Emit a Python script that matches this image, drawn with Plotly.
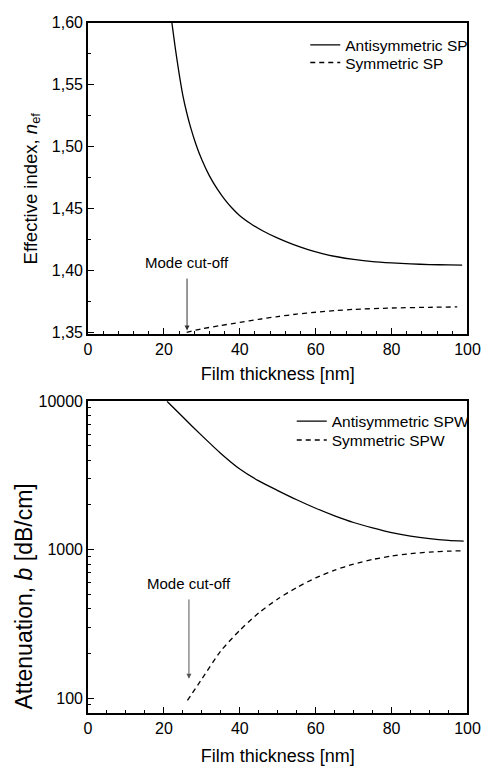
import math
import plotly.graph_objects as go

# ---------------- data ----------------
# Top panel: effective index vs film thickness
x_anti_sp = [22.1, 23, 24, 25, 26, 27, 28.5, 30, 32, 34, 36, 38, 40, 43, 46, 50, 54, 58, 62, 66, 70, 75, 80, 85, 90, 95, 98.6]
n_anti_sp = [1.6000, 1.5795, 1.5591, 1.5412, 1.5275, 1.5159, 1.5013, 1.4893, 1.4763, 1.4660, 1.4574, 1.4502, 1.4442,
             1.4375, 1.4320, 1.4260, 1.4210, 1.4168, 1.4134, 1.4108, 1.4089, 1.4071, 1.4060, 1.4052, 1.4047, 1.4044, 1.4042]

x_sym_sp = [26.0, 30, 35, 40, 45, 50, 55, 60, 65, 70, 80, 90, 97.3]
n_sym_sp = [1.350, 1.3528, 1.3555, 1.3580, 1.3605, 1.3627, 1.3647, 1.3662, 1.3675, 1.3685, 1.3696, 1.3702, 1.3705]

# Bottom panel: attenuation vs film thickness
x_anti_spw = [20.8, 25, 30, 35, 40, 45, 50, 55, 60, 65, 70, 75, 80, 85, 90, 95, 99]
b_anti_spw = [10000, 7816, 5861, 4446, 3491, 2904, 2500, 2168, 1901, 1690, 1524, 1403, 1303, 1233, 1186, 1156, 1143]

x_sym_spw = [26.2, 30, 35, 40, 45, 50, 55, 60, 65, 70, 75, 80, 85, 90, 95, 99]
b_sym_spw = [96.6, 134.6, 208.0, 286.4, 375.0, 465.6, 555.9, 645.7, 727.8, 799.8, 859.0, 905.7, 939.7, 963.8, 977.2, 984.0]

# tick labels
x_tickvals = [0, 20, 40, 60, 80, 100]
x_ticktext = ["0", "20", "40", "60", "80", "100"]
x_minor_top = [v for v in range(0, 101, 4) if v % 20 != 0]
x_minor_bot = [v for v in range(0, 101, 5) if v % 20 != 0]

n_tickvals = [1.35, 1.40, 1.45, 1.50, 1.55, 1.60]
n_ticktext = ["1,35", "1,40", "1,45", "1,50", "1,55", "1,60"]
n_minor = [1.375, 1.425, 1.475, 1.525, 1.575]

b_tickvals = [100, 1000, 10000]
b_ticktext = ["100", "1000", "10000"]
b_minor = [90] + [m * 100 for m in range(2, 10)] + [m * 1000 for m in range(2, 10)]

# cut-off annotation positions (data coords)
cut_x = 26.1
cut_top_text_y = 1.4065
cut_top_tail_y = 1.3946
cut_top_tip_y = 1.3515
cut_bot_x = 26.6
cut_bot_text_y = 596
cut_bot_tail_y = 473
cut_bot_tip_y = 135

FONT = "Liberation Sans, Arial, sans-serif"
W, H = 494, 770

fig = go.Figure()

line_solid = dict(color="black", width=1.3, shape="spline", smoothing=0.6)
line_dash = dict(color="black", width=1.3, dash="5px,4px", shape="spline", smoothing=0.6)

fig.add_trace(go.Scatter(x=x_anti_sp, y=n_anti_sp, mode="lines", name="Antisymmetric SP",
                         line=line_solid, xaxis="x", yaxis="y", legend="legend"))
fig.add_trace(go.Scatter(x=x_sym_sp, y=n_sym_sp, mode="lines", name="Symmetric SP",
                         line=line_dash, xaxis="x", yaxis="y", legend="legend2"))
fig.add_trace(go.Scatter(x=x_anti_spw, y=b_anti_spw, mode="lines", name="Antisymmetric SPW",
                         line=line_solid, xaxis="x2", yaxis="y2", legend="legend3"))
fig.add_trace(go.Scatter(x=x_sym_spw, y=b_sym_spw, mode="lines", name="Symmetric SPW",
                         line=line_dash, xaxis="x2", yaxis="y2", legend="legend4"))

x_dom = [87 / W, 480 / W]
top_dom = [1 - 332 / H, 1 - 15 / H]
bot_dom = [1 - 719 / H, 1 - 401 / H]

axis_common = dict(
    showline=True, linecolor="black", linewidth=1.6, mirror=True,
    ticks="inside", ticklen=6, tickwidth=1.2, tickcolor="black",
    showgrid=False, zeroline=False,
    tickfont=dict(family=FONT, size=16, color="black"),
)
minor_common = dict(ticks="inside", ticklen=3, tickwidth=1.2, tickcolor="black", showgrid=False)
title_font = dict(family=FONT, size=18, color="black")


def leg(xpx, ypx):
    return dict(x=xpx / W, y=1 - ypx / H, xanchor="left", yanchor="middle",
                bgcolor="rgba(0,0,0,0)", borderwidth=0,
                font=dict(family=FONT, size=15.5, color="black"), itemwidth=30)


fig.update_layout(
    width=W, height=H,
    margin=dict(l=0, r=0, t=0, b=0),
    paper_bgcolor="white", plot_bgcolor="white",
    font=dict(family=FONT, color="black"),
    xaxis=dict(domain=x_dom, anchor="y", range=[0, 100],
               tickmode="array", tickvals=x_tickvals, ticktext=x_ticktext,
               minor=dict(tickmode="array", tickvals=x_minor_top, **minor_common),
               title=dict(text="Film thickness [nm]", font=title_font, standoff=11),
               **axis_common),
    yaxis=dict(domain=top_dom, anchor="x", range=[1.349, 1.6],
               tickmode="array", tickvals=n_tickvals, ticktext=n_ticktext,
               minor=dict(tickmode="array", tickvals=n_minor, **minor_common),
               **axis_common),
    xaxis2=dict(domain=x_dom, anchor="y2", range=[0, 100],
                tickmode="array", tickvals=x_tickvals, ticktext=x_ticktext,
                minor=dict(tickmode="array", tickvals=x_minor_bot, **minor_common),
                title=dict(text="Film thickness [nm]", font=title_font, standoff=13),
                **axis_common),
    yaxis2=dict(domain=bot_dom, anchor="x2", type="log", range=[1.9, 4.0],
                tickmode="array", tickvals=b_tickvals, ticktext=b_ticktext,
                minor=dict(tickmode="array", tickvals=b_minor, **minor_common),
                **axis_common),
    legend=leg(312, 38),
    legend2=leg(312, 56),
    legend3=leg(298, 421.7),
    legend4=leg(298, 441),
    showlegend=True,
)

# y-axis titles (rotated text placed in paper coordinates)
fig.add_annotation(x=29 / W, y=1 - 184 / H, xref="paper", yref="paper",
                   text="Effective index, <i>n</i><sub>ef</sub>", textangle=-90, showarrow=False,
                   xanchor="center", yanchor="middle",
                   font=dict(family=FONT, size=18.5, color="black"))
fig.add_annotation(x=21 / W, y=1 - 600 / H, xref="paper", yref="paper",
                   text="Attenuation, <i>b</i> [dB/cm]", textangle=-90, showarrow=False,
                   xanchor="center", yanchor="middle",
                   font=dict(family=FONT, size=23, color="black"))

ann_font = dict(family=FONT, size=15, color="black")
fig.add_annotation(x=cut_x, y=cut_top_text_y, xref="x", yref="y", text="Mode cut-off",
                   showarrow=False, font=ann_font)
fig.add_annotation(x=cut_x, y=cut_top_tip_y, xref="x", yref="y", ax=cut_x, ay=cut_top_tail_y,
                   axref="x", ayref="y", text="", showarrow=True, arrowhead=2, arrowsize=1,
                   arrowwidth=1, arrowcolor="#333333")
fig.add_annotation(x=cut_bot_x, y=math.log10(cut_bot_text_y), xref="x2", yref="y2", text="Mode cut-off",
                   showarrow=False, font=ann_font)
fig.add_annotation(x=cut_bot_x, y=math.log10(cut_bot_tip_y), xref="x2", yref="y2",
                   ax=cut_bot_x, ay=math.log10(cut_bot_tail_y), axref="x2", ayref="y2",
                   text="", showarrow=True, arrowhead=2, arrowsize=1,
                   arrowwidth=1, arrowcolor="#555555")

fig.write_html("out.html")
